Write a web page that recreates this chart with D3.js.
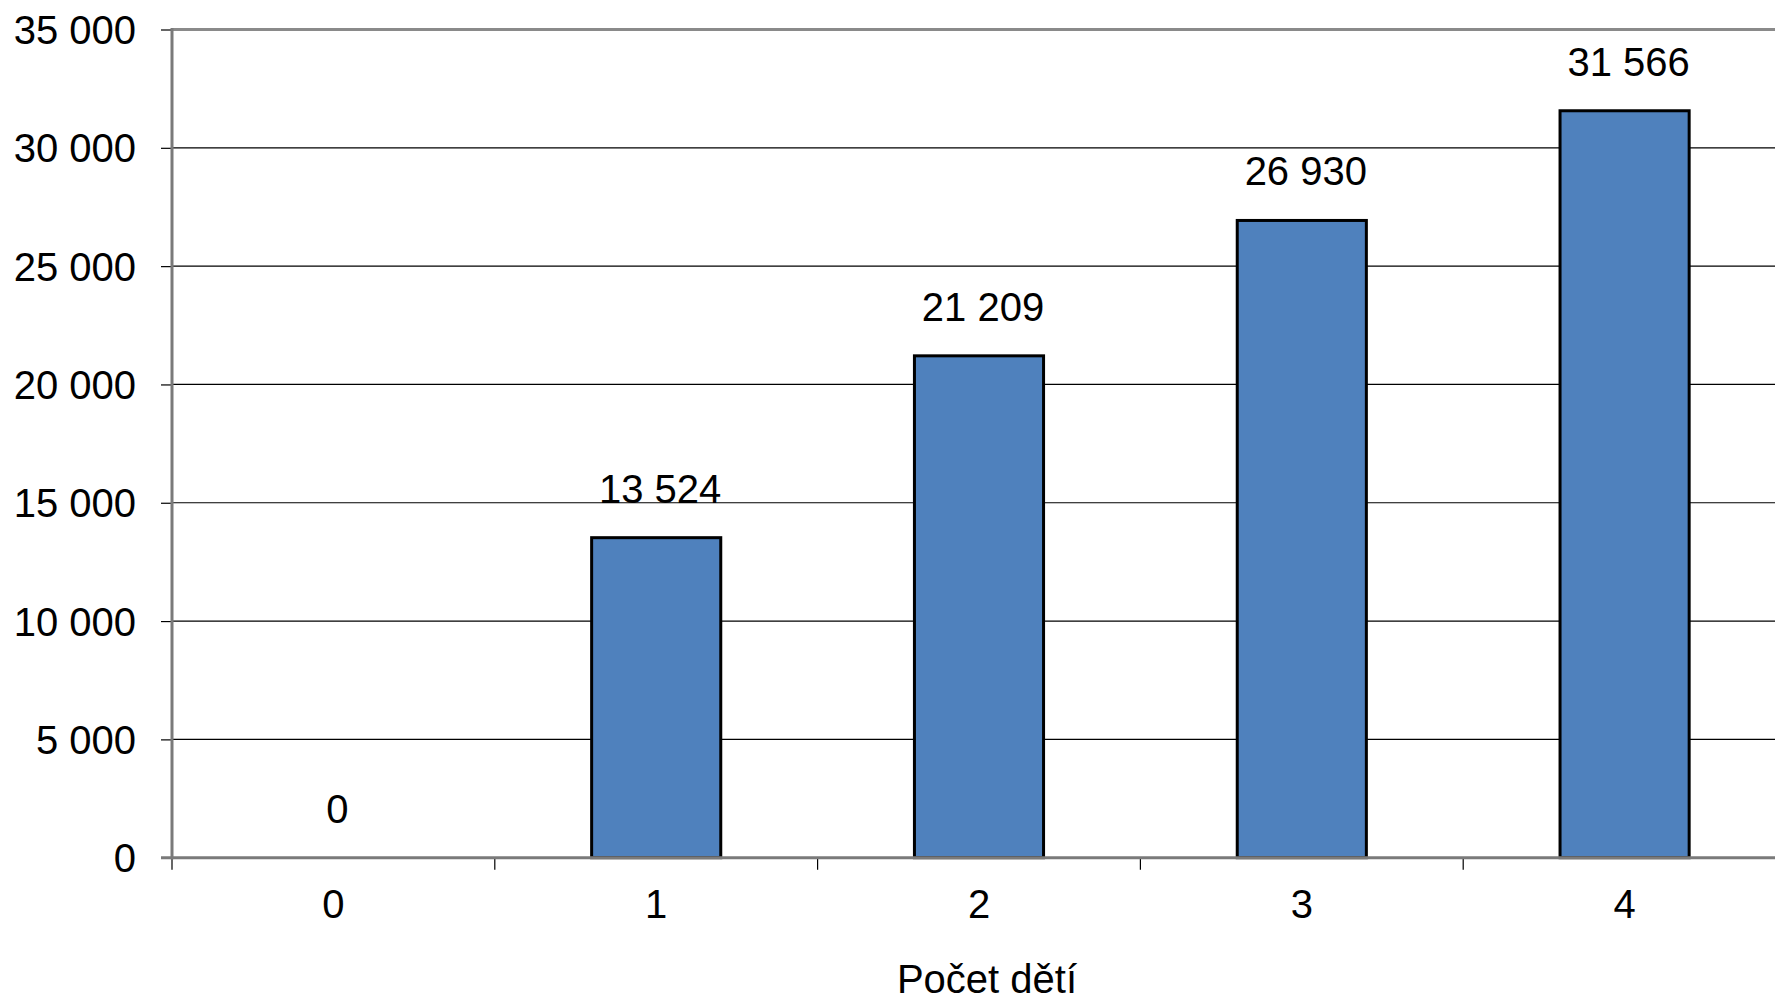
<!DOCTYPE html>
<html>
<head>
<meta charset="utf-8">
<script src="https://cdn.jsdelivr.net/npm/d3@7"></script>
<style>
  body { margin: 0; background: #fff; }
  text { font-family: "Liberation Sans", Arial, sans-serif; fill: #000; }
</style>
</head>
<body>
<script>
// chart data
var categories = ['0', '1', '2', '3', '4'];
var childBenefit = [0, 13524, 21209, 26930, 31566];
var yTicks = [0, 5000, 10000, 15000, 20000, 25000, 30000, 35000];
var xTitle = 'Počet dětí';

var chart = function() {
  var width = 1775;
  var height = 1000;
  var plotLeft = 172;
  var plotRight = 1786;   // the plot runs a little past the picture edge
  var plotTop = 29.5;
  var plotBottom = 857.7;
  var fontSize = 40;
  var svg, x, y;

  var numberFormat = d3.formatLocale({
    decimal: ',',
    thousands: ' ',
    grouping: [3],
    currency: ['', ' Kč']
  }).format(',d');

  var createSvg = function() {
    svg = d3.select('body')
      .append('svg')
      .attr('width', width)
      .attr('height', height);

    x = d3.scaleBand()
      .domain(categories)
      .range([plotLeft, plotRight])
      .paddingInner(0.6)
      .paddingOuter(0.3);

    y = d3.scaleLinear()
      .domain([0, 35000])
      .range([plotBottom, plotTop]);
  };

  var drawGrid = function() {
    svg.append('g')
      .selectAll('line')
      .data(yTicks.filter(function(t) { return t > 0 && t < 35000; }))
      .join('line')
      .attr('x1', plotLeft)
      .attr('x2', width)
      .attr('y1', function(d) { return y(d); })
      .attr('y2', function(d) { return y(d); })
      .style('stroke', '#000')
      .style('stroke-width', 1.2);

    // top frame of the plot area
    svg.append('line')
      .attr('x1', plotLeft)
      .attr('x2', width)
      .attr('y1', plotTop)
      .attr('y2', plotTop)
      .style('stroke', '#8a8a8a')
      .style('stroke-width', 3);
  };

  var drawBars = function() {
    var rows = categories.map(function(c, i) { return {cat: c, value: childBenefit[i]}; });

    svg.append('g')
      .selectAll('rect')
      .data(rows.filter(function(d) { return d.value > 0; }))
      .join('rect')
      .attr('x', function(d) { return x(d.cat); })
      .attr('y', function(d) { return y(d.value); })
      .attr('width', x.bandwidth())
      .attr('height', function(d) { return y(0) - y(d.value); })
      .style('fill', '#4f81bd')
      .style('stroke', '#000')
      .style('stroke-width', 3);

    svg.append('g')
      .selectAll('text')
      .data(rows)
      .join('text')
      .attr('x', function(d) { return x(d.cat) + x.bandwidth() / 2 + 4; })
      .attr('y', function(d) { return y(d.value) - 35; })
      .attr('text-anchor', 'middle')
      .style('font-size', fontSize + 'px')
      .text(function(d) { return numberFormat(d.value); });
  };

  var drawAxes = function() {
    var yAxis = svg.append('g')
      .attr('transform', 'translate(' + plotLeft + ',0)')
      .call(d3.axisLeft(y)
        .tickValues(yTicks)
        .tickFormat(numberFormat)
        .tickSize(11)
        .tickPadding(25));
    yAxis.select('.domain').remove();
    yAxis.selectAll('.tick line').style('stroke', '#000').style('stroke-width', 1.2);
    yAxis.selectAll('.tick text')
      .style('font-size', fontSize + 'px')
      .style('font-family', '"Liberation Sans", Arial, sans-serif')
      .attr('dy', '0.35em');

    // category axis: ticks sit on band boundaries, labels at band centres
    var bounds = categories.map(function(c) { return x(c) - x.step() * x.paddingOuter(); });
    var xAxis = svg.append('g');
    xAxis.selectAll('line')
      .data(bounds)
      .join('line')
      .attr('x1', function(d) { return d; })
      .attr('x2', function(d) { return d; })
      .attr('y1', plotBottom)
      .attr('y2', plotBottom + 12)
      .style('stroke', '#000')
      .style('stroke-width', 1.2);
    xAxis.selectAll('text')
      .data(categories)
      .join('text')
      .attr('x', function(d) { return x(d) + x.bandwidth() / 2; })
      .attr('y', 918)
      .attr('text-anchor', 'middle')
      .style('font-size', fontSize + 'px')
      .text(function(d) { return d; });

    svg.append('line')
      .attr('x1', plotLeft)
      .attr('x2', plotLeft)
      .attr('y1', plotTop - 1.5)
      .attr('y2', plotBottom + 1.5)
      .style('stroke', '#7a7a7a')
      .style('stroke-width', 3);

    svg.append('line')
      .attr('x1', plotLeft - 11)
      .attr('x2', width)
      .attr('y1', plotBottom)
      .attr('y2', plotBottom)
      .style('stroke', '#7a7a7a')
      .style('stroke-width', 3);

    svg.append('text')
      .attr('x', 987)
      .attr('y', 993)
      .attr('text-anchor', 'middle')
      .style('font-size', fontSize + 'px')
      .text(xTitle);
  };

  return {
    createSvg: createSvg,
    drawGrid: drawGrid,
    drawBars: drawBars,
    drawAxes: drawAxes
  };
}();

chart.createSvg();
chart.drawGrid();
chart.drawBars();
chart.drawAxes();
</script>
</body>
</html>
